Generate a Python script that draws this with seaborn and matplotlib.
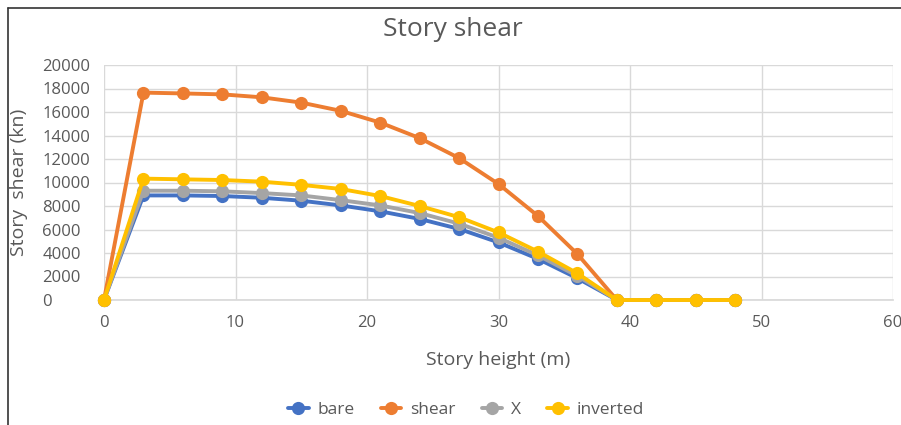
import matplotlib
matplotlib.use("Agg")
import matplotlib.pyplot as plt
import seaborn as sns
import pandas as pd
from matplotlib.lines import Line2D

heights = [0, 3, 6, 9, 12, 15, 18, 21, 24, 27, 30, 33, 36, 39, 42, 45, 48]
bare = [0, 8900, 8900, 8850, 8700, 8450, 8050, 7550, 6900, 6050, 4900, 3500, 1850, 0, 0, 0, 0]
shear = [0, 17650, 17580, 17500, 17250, 16800, 16100, 15100, 13780, 12080, 9870, 7150, 3910, 0, 0, 0, 0]
x_brace = [0, 9300, 9300, 9250, 9100, 8900, 8500, 8050, 7400, 6500, 5300, 3800, 2050, 0, 0, 0, 0]
inverted = [0, 10330, 10270, 10210, 10070, 9800, 9450, 8850, 8000, 7050, 5750, 4120, 2270, 0, 0, 0, 0]
series_names = ["bare", "shear", "X", "inverted"]
colors = ["#4472C4", "#ED7D31", "#A5A5A5", "#FFC000"]

df = pd.DataFrame({
    "height": heights * 4,
    "value": bare + shear + x_brace + inverted,
    "series": sum([[n] * len(heights) for n in series_names], []),
})

sns.set_theme(style="white")
plt.rcParams["font.family"] = ["Open Sans", "DejaVu Sans"]

fig = plt.figure(figsize=(9.01, 4.25), dpi=100)
ax = fig.add_axes([104 / 901, 1 - 300 / 425, (893 - 104) / 901, (300 - 65) / 425])

sns.lineplot(data=df, x="height", y="value", hue="series", palette=colors,
             hue_order=series_names, marker="o", markersize=9.5, linewidth=2.8,
             markeredgewidth=0, ax=ax, legend=False, sort=False, zorder=3)
for ln in ax.get_lines():
    ln.set_clip_on(False)

ax.set_xlim(0, 60)
ax.set_ylim(0, 20000)
ax.set_xticks(range(0, 61, 10))
ax.set_yticks(range(0, 20001, 2000))
ax.grid(True, color="#D9D9D9", linewidth=1)
for s in ["top", "right", "left"]:
    ax.spines[s].set_visible(False)
ax.spines["bottom"].set_color("#D9D9D9")
ax.tick_params(axis="both", colors="#595959", labelsize=12, length=0)
ax.tick_params(axis="x", pad=11)
ax.set_xlabel("Story height (m)", fontsize=14, color="#595959")
ax.xaxis.set_label_coords(0.5, -(351 - 300) / 235)
ax.set_ylabel("Story  shear (kn)", fontsize=14, color="#595959")
ax.yaxis.set_label_coords(-(104 - 28) / 789, 0.5)
for lbl in ax.get_yticklabels():
    lbl.set_horizontalalignment("left")
ax.yaxis.set_tick_params(pad=44.5)

fig.text(453 / 901, 1 - 29 / 425, "Story shear",
         ha="center", va="center", fontsize=19, color="#595959")

handles = [Line2D([0], [0], color=c, lw=2.8, marker="o", markersize=9.5,
                  markeredgewidth=0) for c in colors]
fig.legend(handles, series_names, loc="center", bbox_to_anchor=(466 / 901, 1 - 410 / 425),
           ncol=4, frameon=False, fontsize=12.5, labelcolor="#595959",
           handlelength=1.2, columnspacing=1.5, handletextpad=0.5)

# outer chart frame (left and top edges visible)
fig.add_artist(Line2D([8 / 901, 8 / 901], [0, 1 - 8 / 425], transform=fig.transFigure,
                      color="#333333", lw=1.2))
fig.add_artist(Line2D([8 / 901, 1], [1 - 8 / 425, 1 - 8 / 425], transform=fig.transFigure,
                      color="#333333", lw=1.2))

fig.savefig("out.png", dpi=100)
